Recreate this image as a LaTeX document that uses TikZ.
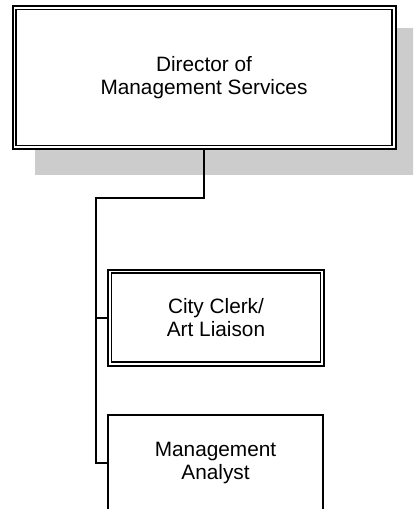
\documentclass[tikz,border=0pt]{standalone}
\usepackage{fontspec}
\setmainfont{Liberation Sans}
\begin{document}
\begin{tikzpicture}[x=1pt,y=-1pt,
  box/.style={draw=black, line width=2pt, fill=white, align=center, inner sep=0pt,
    font=\fontsize{20.8}{23}\selectfont},
  inner/.style={draw=black, line width=1.2pt},
  link/.style={draw=black, line width=2pt},
  shade/.style={fill=black!20, draw=none}]
\useasboundingbox (0,0) rectangle (413,509);
\clip (0,0) rectangle (413,509);
% shadow
\fill[shade] (35,27.5) rectangle (420,175);
% director
\node[box, minimum width=383pt, minimum height=143pt] (dir) at (204,77.5)
  {Director of\\Management Services};
\draw[inner] ([shift={(4.5pt,-4.5pt)}]dir.north west) rectangle ([shift={(-4.5pt,4.5pt)}]dir.south east);
% city clerk
\node[box, minimum width=216pt, minimum height=96pt] (clerk) at (216,317.5)
  {City Clerk/\\Art Liaison};
\draw[inner] ([shift={(4.5pt,-4.5pt)}]clerk.north west) rectangle ([shift={(-4.5pt,4.5pt)}]clerk.south east);
% analyst
\node[box, minimum width=215pt, minimum height=96pt] (analyst) at (215.5,462.5)
  {Management\\Analyst};
% connectors
\coordinate (bus) at (96,197.5);
\draw[link] (dir.south) |- (bus) -- (bus |- analyst.west) -- (analyst.west);
\draw[link] (bus |- clerk.west) -- (clerk.west);
\end{tikzpicture}
\end{document}
